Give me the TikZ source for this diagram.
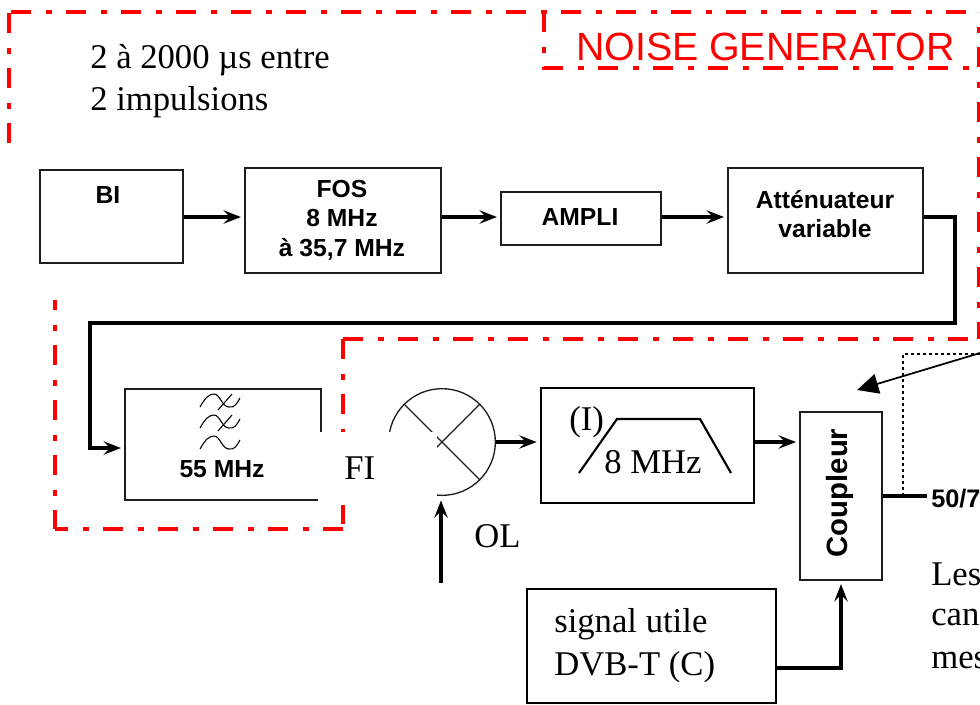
\documentclass[tikz,border=0pt]{standalone}
\usepackage{fontspec}
\setmainfont{Liberation Serif}
\setsansfont{Liberation Sans}
\usetikzlibrary{arrows.meta, positioning, shapes.geometric, calc, fit}
\definecolor{noisered}{RGB}{255,0,0}
\definecolor{boxline}{RGB}{30,30,30}
\tikzset{
  block/.style={rectangle, draw=boxline, line width=1.1pt, inner sep=0pt},
  heavyblock/.style={block, draw=black, line width=1.6pt},
  lbl/.style={font=\fontsize{18.5}{22}\selectfont\sffamily\bfseries, align=center, inner sep=0pt},
  txt/.style={font=\fontsize{26}{32}\selectfont, align=left, inner sep=0pt},
  arr/.style={-{Stealth[length=13pt, width=10pt, inset=5pt]}, line width=2.8pt, shorten >=2.5pt},
  wire/.style={line width=2.8pt},
  noiseline/.style={draw=noisered, line width=3pt,
                    dash pattern=on 15pt off 10.875pt on 4.5pt off 10.875pt},
  probe/.style={line width=1.8pt, dash pattern=on 2.5pt off 2pt},
}

\begin{document}
\begin{tikzpicture}[x=0.75pt, y=-0.75pt]
  \useasboundingbox (0,0) rectangle (980,704);

  % noise generator frame
  \draw[noiseline] (9,143) -- (9,12);
  \draw[noiseline, dash phase=39.75pt] (9,12) -- (970,12);
  \draw[noiseline] (544,12) -- (544,68) -- (970,68);
  \draw[noiseline, dash phase=2.25pt] (979,339) -- (979,12);
  \draw[noiseline] (343,339) -- (979,339);
  \draw[noiseline] (343,339) -- (343,529);
  \draw[noiseline, dash phase=5.25pt] (55,529) -- (343,529);
  \draw[noiseline, dash phase=7.5pt] (55,300) -- (55,529);
  \node[anchor=base, inner sep=0pt, text=noisered, font=\fontsize{29.5}{32}\selectfont\sffamily] (title) at (765.5,60) {NOISE GENERATOR};
  \node[txt, anchor=west] (delay) at (90,81) {2 à 2000 µs entre\\2 impulsions};

  % top chain
  \node[block, fit={(40,170) (183,263)}] (bi) {};
  \node[lbl] (bilbl) at (108,195) {BI};
  \node[block, fit={(245,168) (441,273)}] (fos) {};
  \node[lbl] (foslbl) at (342,220) {FOS\\8 MHz\\à 35,7 MHz};
  \node[block, fit={(501,192) (661,245)}] (ampli) {};
  \node[lbl] (amplilbl) at (580,217) {AMPLI};
  \node[block, fit={(728,168) (923,273)}] (att) {};
  \node[lbl] (attlbl) at (825,214) {Atténuateur\\variable};

  % filter and mixer
  \node[block, fit={(125,389) (321,500)}] (filt) {};
  \node[lbl] (filtlbl) at (222,469) {55 MHz};
  \foreach \dy in {0,21,42} {
    \draw[line width=0.8pt, yshift=-\dy*0.75pt] (200,407) .. controls (205,398) and (209,394) .. (214,394)
      .. controls (220,394) and (222,407) .. (229,407) .. controls (235,408) and (237,403) .. (240,398);
  }
  \foreach \dy in {0,21} {
    \draw[line width=0.8pt, yshift=-\dy*0.75pt] (218,410) -- (232,394);
  }
  \node[circle, draw=boxline, line width=1pt, minimum size=80pt, inner sep=0pt] (mix) at (442,442) {};
  \draw[line width=1pt, draw=boxline] (mix.135) -- (mix.-45);
  \draw[line width=1pt, draw=boxline] (mix.45) -- (mix.-135);
  \fill[white] (318,432) rectangle (437,505);
  \node[txt, anchor=base west] (fi) at (344,479) {FI};
  \node[txt, anchor=base west] (ol) at (474,547) {OL};
  \coordinate (olin) at (441,583);

  % band filter
  \node[heavyblock, fit={(541,388) (754,503)}] (band) {};
  \draw[line width=1.6pt] (579,473) -- (617,419) -- (700,419) -- (731,473);
  \node[txt, anchor=base west] (ilbl) at (569,430) {(I)};
  \node[txt, anchor=base west] (mhz) at (604,473) {8 MHz};

  % coupler and output
  \node[block, fit={(800,412) (882,580)}] (coup) {};
  \node[lbl, rotate=90, font=\fontsize{22}{24}\selectfont\sffamily\bfseries] (couplbl) at (840,493) {Coupleur};
  \node[heavyblock, fit={(527,589) (776,703)}] (sig) {};
  \node[txt, anchor=base west] (sigtxt) at (554,632) {signal utile};
  \node[txt, anchor=base west] (dvb) at (554,675) {DVB-T (C)};
  \node[lbl, anchor=base west, font=\fontsize{19}{22}\selectfont\sffamily\bfseries] (level) at (931,507) {50/7};
  \node[txt, anchor=base west] (les) at (931,585) {Les};
  \node[txt, anchor=base west] (can) at (931,625) {can};
  \node[txt, anchor=base west] (mes) at (931,668) {mes};
  \coordinate (outend) at (927,496);
  \coordinate (tap) at (903,496);
  \coordinate (tapend) at (980,354);
  \coordinate (note) at (980,353);
  \coordinate (notetip) at (857,390);

  \draw[arr] (bi.east |- 0,217) -- (fos.west |- 0,217);
  \draw[arr] (fos.east |- 0,217) -- (ampli.west |- 0,217);
  \draw[arr] (ampli.east |- 0,217) -- (att.west |- 0,217);
  \draw[arr] (att.east |- 0,217) -- (955,217) -- (955,323) -- (90,323) -- (90,448) -- (filt.west |- 0,448);
  \draw[arr] (olin) -- (441,497);
  \draw[arr] (mix.east) -- (band.west |- mix.east);
  \draw[arr] (band.east |- mix.east) -- (coup.west |- mix.east);
  \draw[arr] (sig.east |- 0,668) -- (841,668) -- (coup.south -| 841,0);
  \draw[wire] (coup.east |- outend) -- (outend);
  \draw[probe] (tap) -- (903,354) -- (tapend);
  \draw[line width=1.3pt, -{Triangle[length=16pt, width=15pt]}] (note) -- (notetip);
\end{tikzpicture}
\end{document}
